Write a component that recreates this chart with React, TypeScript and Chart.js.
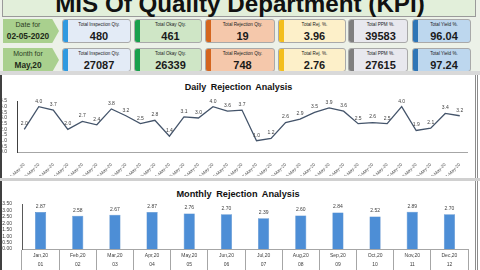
import React, { useEffect, useRef } from "react";
import { Chart, registerables } from "chart.js";

Chart.register(...registerables);

const FONT = '"Liberation Sans", Arial, sans-serif';

const dailyLabels = [
  "01-May-20", "02-May-20", "03-May-20", "04-May-20", "05-May-20", "06-May-20", "07-May-20", "08-May-20",
  "09-May-20", "10-May-20", "11-May-20", "12-May-20", "13-May-20", "14-May-20", "15-May-20", "16-May-20",
  "17-May-20", "18-May-20", "19-May-20", "20-May-20", "21-May-20", "22-May-20", "23-May-20", "24-May-20",
  "25-May-20", "26-May-20", "27-May-20", "28-May-20", "29-May-20", "30-May-20", "31-May-20",
];
const dailyRejection = [
  2.0, 4.0, 3.7, 2.0, 2.7, 2.4, 3.8, 3.2, 2.5, 2.8, 1.4, 3.1, 3.0, 4.0, 3.6, 3.7,
  1.0, 1.2, 2.6, 2.9, 3.5, 3.9, 3.6, 2.5, 2.6, 2.5, 4.0, 1.9, 2.1, 3.4, 3.2,
];
const dailyTicks = { min: 0, max: 4.5, step: 0.5 };

const monthNames = ["Jan,20", "Feb,20", "Mar,20", "Apr,20", "May,20", "Jun,20", "Jul,20", "Aug,20", "Sep,20", "Oct,20", "Nov,20", "Dec,20"];
const monthNumbers = ["01", "02", "03", "04", "05", "06", "07", "08", "09", "10", "11", "12"];
const monthlyRejection = [2.87, 2.58, 2.67, 2.87, 2.76, 2.70, 2.39, 2.60, 2.84, 2.52, 2.89, 2.70];
const monthlyTicks = { min: 0, max: 3.5, step: 0.5 };

const kpiLabels = ["Total Inspection Qty.", "Total Okay Qty.", "Total Rejection Qty.", "Total Rej. %.", "Total PPM %.", "Total Yield %."];
const dailyKpi = ["480", "461", "19", "3.96", "39583", "96.04"];
const monthlyKpi = ["27087", "26339", "748", "2.76", "27615", "97.24"];
const periodLabels = ["Date for", "Month for"];
const periodValues = ["02-05-2020", "May,20"];

const cardStyles = [
  { x: 62, w: 69, strip: "#2f9ae0", bg: "#e3ebf6" },
  { x: 134, w: 68, strip: "#19a04c", bg: "#cfe6c6" },
  { x: 205, w: 70, strip: "#d4661f", bg: "#f5c8ab" },
  { x: 278, w: 68, strip: "#f3be1c", bg: "#fdf0c9" },
  { x: 348, w: 60, strip: "#7f7f7f", bg: "#e8e8ee" },
  { x: 412, w: 59, strip: "#2e75b6", bg: "#bdd7ee" },
];
const rowTops = [19, 48];

function valueLabels(id: string, decimals: number, size: number, color: string) {
  return {
    id,
    afterDatasetsDraw(chart: any) {
      const ctx = chart.ctx;
      chart.data.datasets.forEach((ds: any, i: number) => {
        const meta = chart.getDatasetMeta(i);
        meta.data.forEach((el: any, j: number) => {
          const v = ds.data[j] as number;
          ctx.save();
          ctx.font = `${size}px ${FONT}`;
          ctx.fillStyle = color;
          ctx.textAlign = "center";
          ctx.textBaseline = "bottom";
          ctx.fillText(v.toFixed(decimals), el.x, el.y - 3);
          ctx.restore();
        });
      });
    },
  };
}

function DailyChart() {
  const ref = useRef<HTMLCanvasElement>(null);
  useEffect(() => {
    const chart = new Chart(ref.current!, {
      type: "line",
      data: {
        labels: dailyLabels,
        datasets: [
          {
            data: dailyRejection,
            borderColor: "#44546a",
            borderWidth: 1.3,
            pointRadius: 0,
            tension: 0,
            fill: false,
          },
        ],
      },
      options: {
        animation: false,
        responsive: false,
        maintainAspectRatio: false,
        layout: { padding: { top: 5, right: 9, left: 0, bottom: 0 } },
        plugins: { legend: { display: false }, tooltip: { enabled: false }, title: { display: false } },
        scales: {
          x: {
            offset: true,
            grid: { display: false },
            border: { display: true, color: "#a6a6a6" },
            ticks: {
              font: { size: 4.5, family: FONT },
              color: "#595959",
              maxRotation: 45,
              minRotation: 45,
              autoSkip: false,
              padding: 2,
            },
            afterFit: (s: any) => {
              s.height = 24;
            },
          },
          y: {
            min: dailyTicks.min,
            max: dailyTicks.max,
            ticks: {
              stepSize: dailyTicks.step,
              autoSkip: false,
              callback: (v: any) => Number(v).toFixed(1),
              font: { size: 5, family: FONT, lineHeight: 1 },
              color: "#404040",
              padding: 2,
            },
            grid: { display: false },
            border: { display: true, color: "#404040" },
            afterFit: (s: any) => {
              s.width = 17;
            },
          },
        },
      },
      plugins: [valueLabels("dailyLabels", 1, 5, "#404040")],
    } as any);
    return () => chart.destroy();
  }, []);
  return (
    <canvas
      ref={ref}
      width={476}
      height={80}
      style={{ position: "absolute", left: 0, top: 96, width: 476, height: 80 }}
    />
  );
}

function MonthlyChart() {
  const ref = useRef<HTMLCanvasElement>(null);
  useEffect(() => {
    const chart = new Chart(ref.current!, {
      type: "bar",
      data: {
        labels: monthNames.map((m, i) => [m, monthNumbers[i]]),
        datasets: [
          {
            data: monthlyRejection,
            backgroundColor: "#4d8ed6",
            borderColor: "#3f7cc2",
            borderWidth: 0.5,
            barPercentage: 0.6,
            categoryPercentage: 0.5,
          },
        ],
      },
      options: {
        animation: false,
        responsive: false,
        maintainAspectRatio: false,
        layout: { padding: { top: 6, right: 8, left: 0, bottom: 0 } },
        plugins: { legend: { display: false }, tooltip: { enabled: false }, title: { display: false } },
        scales: {
          x: {
            grid: {
              display: true,
              drawOnChartArea: false,
              drawTicks: true,
              tickLength: 21,
              color: "#a6a6a6",
              offset: true,
            },
            border: { display: true, color: "#a6a6a6" },
            ticks: {
              padding: -19,
              font: { size: 5, family: FONT, lineHeight: 1.8 },
              color: "#404040",
              maxRotation: 0,
              minRotation: 0,
              autoSkip: false,
            },
            afterFit: (s: any) => {
              s.height = 21;
            },
          },
          y: {
            min: monthlyTicks.min,
            max: monthlyTicks.max,
            ticks: {
              stepSize: monthlyTicks.step,
              autoSkip: false,
              callback: (v: any) => Number(v).toFixed(2),
              font: { size: 5, family: FONT, lineHeight: 1 },
              color: "#404040",
              padding: 2,
            },
            grid: { display: false },
            border: { display: true, color: "#595959" },
            afterFit: (s: any) => {
              s.width = 22;
            },
          },
        },
      },
      plugins: [valueLabels("monthlyLabels", 2, 5, "#404040")],
    } as any);
    return () => chart.destroy();
  }, []);
  return (
    <canvas
      ref={ref}
      width={476}
      height={72}
      style={{ position: "absolute", left: 0, top: 198, width: 476, height: 72 }}
    />
  );
}

function KpiCard(props: { x: number; y: number; w: number; strip: string; bg: string; label: string; value: string }) {
  const { x, y, w, strip, bg, label, value } = props;
  return (
    <div
      style={{
        position: "absolute",
        left: x,
        top: y,
        width: w,
        height: 24,
        boxSizing: "border-box",
        border: "1px solid #a9a9a9",
        borderRadius: 3,
        background: bg,
        overflow: "hidden",
      }}
    >
      <div style={{ position: "absolute", left: 0, top: 0, bottom: 0, width: 5, background: strip }} />
      <div
        style={{
          position: "absolute",
          left: 5,
          right: 0,
          top: 2,
          textAlign: "center",
          fontSize: 4.6,
          lineHeight: "6px",
          color: "#222",
          whiteSpace: "nowrap",
        }}
      >
        {label}
      </div>
      <div
        style={{
          position: "absolute",
          left: 5,
          right: 0,
          top: 10,
          textAlign: "center",
          fontSize: 11,
          fontWeight: 700,
          lineHeight: "12px",
          color: "#1a1a1a",
        }}
      >
        {value}
      </div>
    </div>
  );
}

function PeriodBox(props: { y: number; label: string; value: string }) {
  const { y, label, value } = props;
  return (
    <div
      style={{
        position: "absolute",
        left: 3,
        top: y,
        width: 56,
        height: 24,
        background: "#a9d08e",
        clipPath: "polygon(0 0, 88% 0, 100% 50%, 88% 100%, 0 100%)",
      }}
    >
      <div style={{ position: "absolute", left: 0, width: 50, top: 2, textAlign: "center", fontSize: 7, lineHeight: "8px", color: "#2b3d22" }}>
        {label}
      </div>
      <div style={{ position: "absolute", left: 0, width: 50, top: 12, textAlign: "center", fontSize: 8.3, fontWeight: 700, lineHeight: "10px", color: "#1e2a18" }}>
        {value}
      </div>
    </div>
  );
}

export default function App() {
  const kpiRows = [dailyKpi, monthlyKpi];
  return (
    <div
      style={{
        position: "fixed",
        left: 0,
        top: 0,
        width: 480,
        height: 270,
        overflow: "hidden",
        background: "#ffffff",
        fontFamily: FONT,
      }}
    >
      {/* header band */}
      <div style={{ position: "absolute", left: 0, top: 0, width: 480, height: 75, background: "#ecf1e8" }} />
      <div
        style={{
          position: "absolute",
          left: 2,
          top: -4,
          width: 474,
          height: 21,
          boxSizing: "border-box",
          background: "#e2efda",
          border: "1px solid #9a9a9a",
        }}
      />
      <div
        style={{
          position: "absolute",
          left: 0,
          width: 480,
          top: -9,
          textAlign: "center",
          fontSize: 24.2,
          fontWeight: 700,
          lineHeight: "26px",
          color: "#111",
          whiteSpace: "nowrap",
        }}
      >
        MIS Of Quality Department (KPI)
      </div>

      {rowTops.map((y, r) => (
        <React.Fragment key={r}>
          <PeriodBox y={y} label={periodLabels[r]} value={periodValues[r]} />
          {cardStyles.map((c, i) => (
            <KpiCard key={i} x={c.x} y={y} w={c.w} strip={c.strip} bg={c.bg} label={kpiLabels[i]} value={kpiRows[r][i]} />
          ))}
        </React.Fragment>
      ))}

      {/* separator bands */}
      <div style={{ position: "absolute", left: 0, top: 71, width: 480, height: 4, background: "#d9d9d9" }} />

      {/* daily panel */}
      <div
        style={{
          position: "absolute",
          left: 0,
          top: 75,
          width: 478,
          height: 103,
          boxSizing: "border-box",
          background: "#fff",
          borderLeft: "2px solid #404040",
          borderRight: "3px double #8c8c8c",
        }}
      />
      <div
        style={{
          position: "absolute",
          left: 0,
          width: 477,
          top: 82,
          textAlign: "center",
          fontSize: 9,
          fontWeight: 700,
          lineHeight: "10px",
          color: "#111",
          wordSpacing: 2,
        }}
      >
        Daily Rejection Analysis
      </div>
      <DailyChart />

      <div style={{ position: "absolute", left: 0, top: 178, width: 480, height: 3, background: "#d0d0d0" }} />

      {/* monthly panel */}
      <div
        style={{
          position: "absolute",
          left: 0,
          top: 181,
          width: 478,
          height: 89,
          boxSizing: "border-box",
          background: "#fff",
          borderLeft: "2px solid #404040",
          borderRight: "3px double #8c8c8c",
        }}
      />
      <div
        style={{
          position: "absolute",
          left: 0,
          width: 476,
          top: 189,
          textAlign: "center",
          fontSize: 9.2,
          fontWeight: 700,
          lineHeight: "10px",
          color: "#111",
          wordSpacing: 2,
        }}
      >
        Monthly Rejection Analysis
      </div>
      <MonthlyChart />
    </div>
  );
}
